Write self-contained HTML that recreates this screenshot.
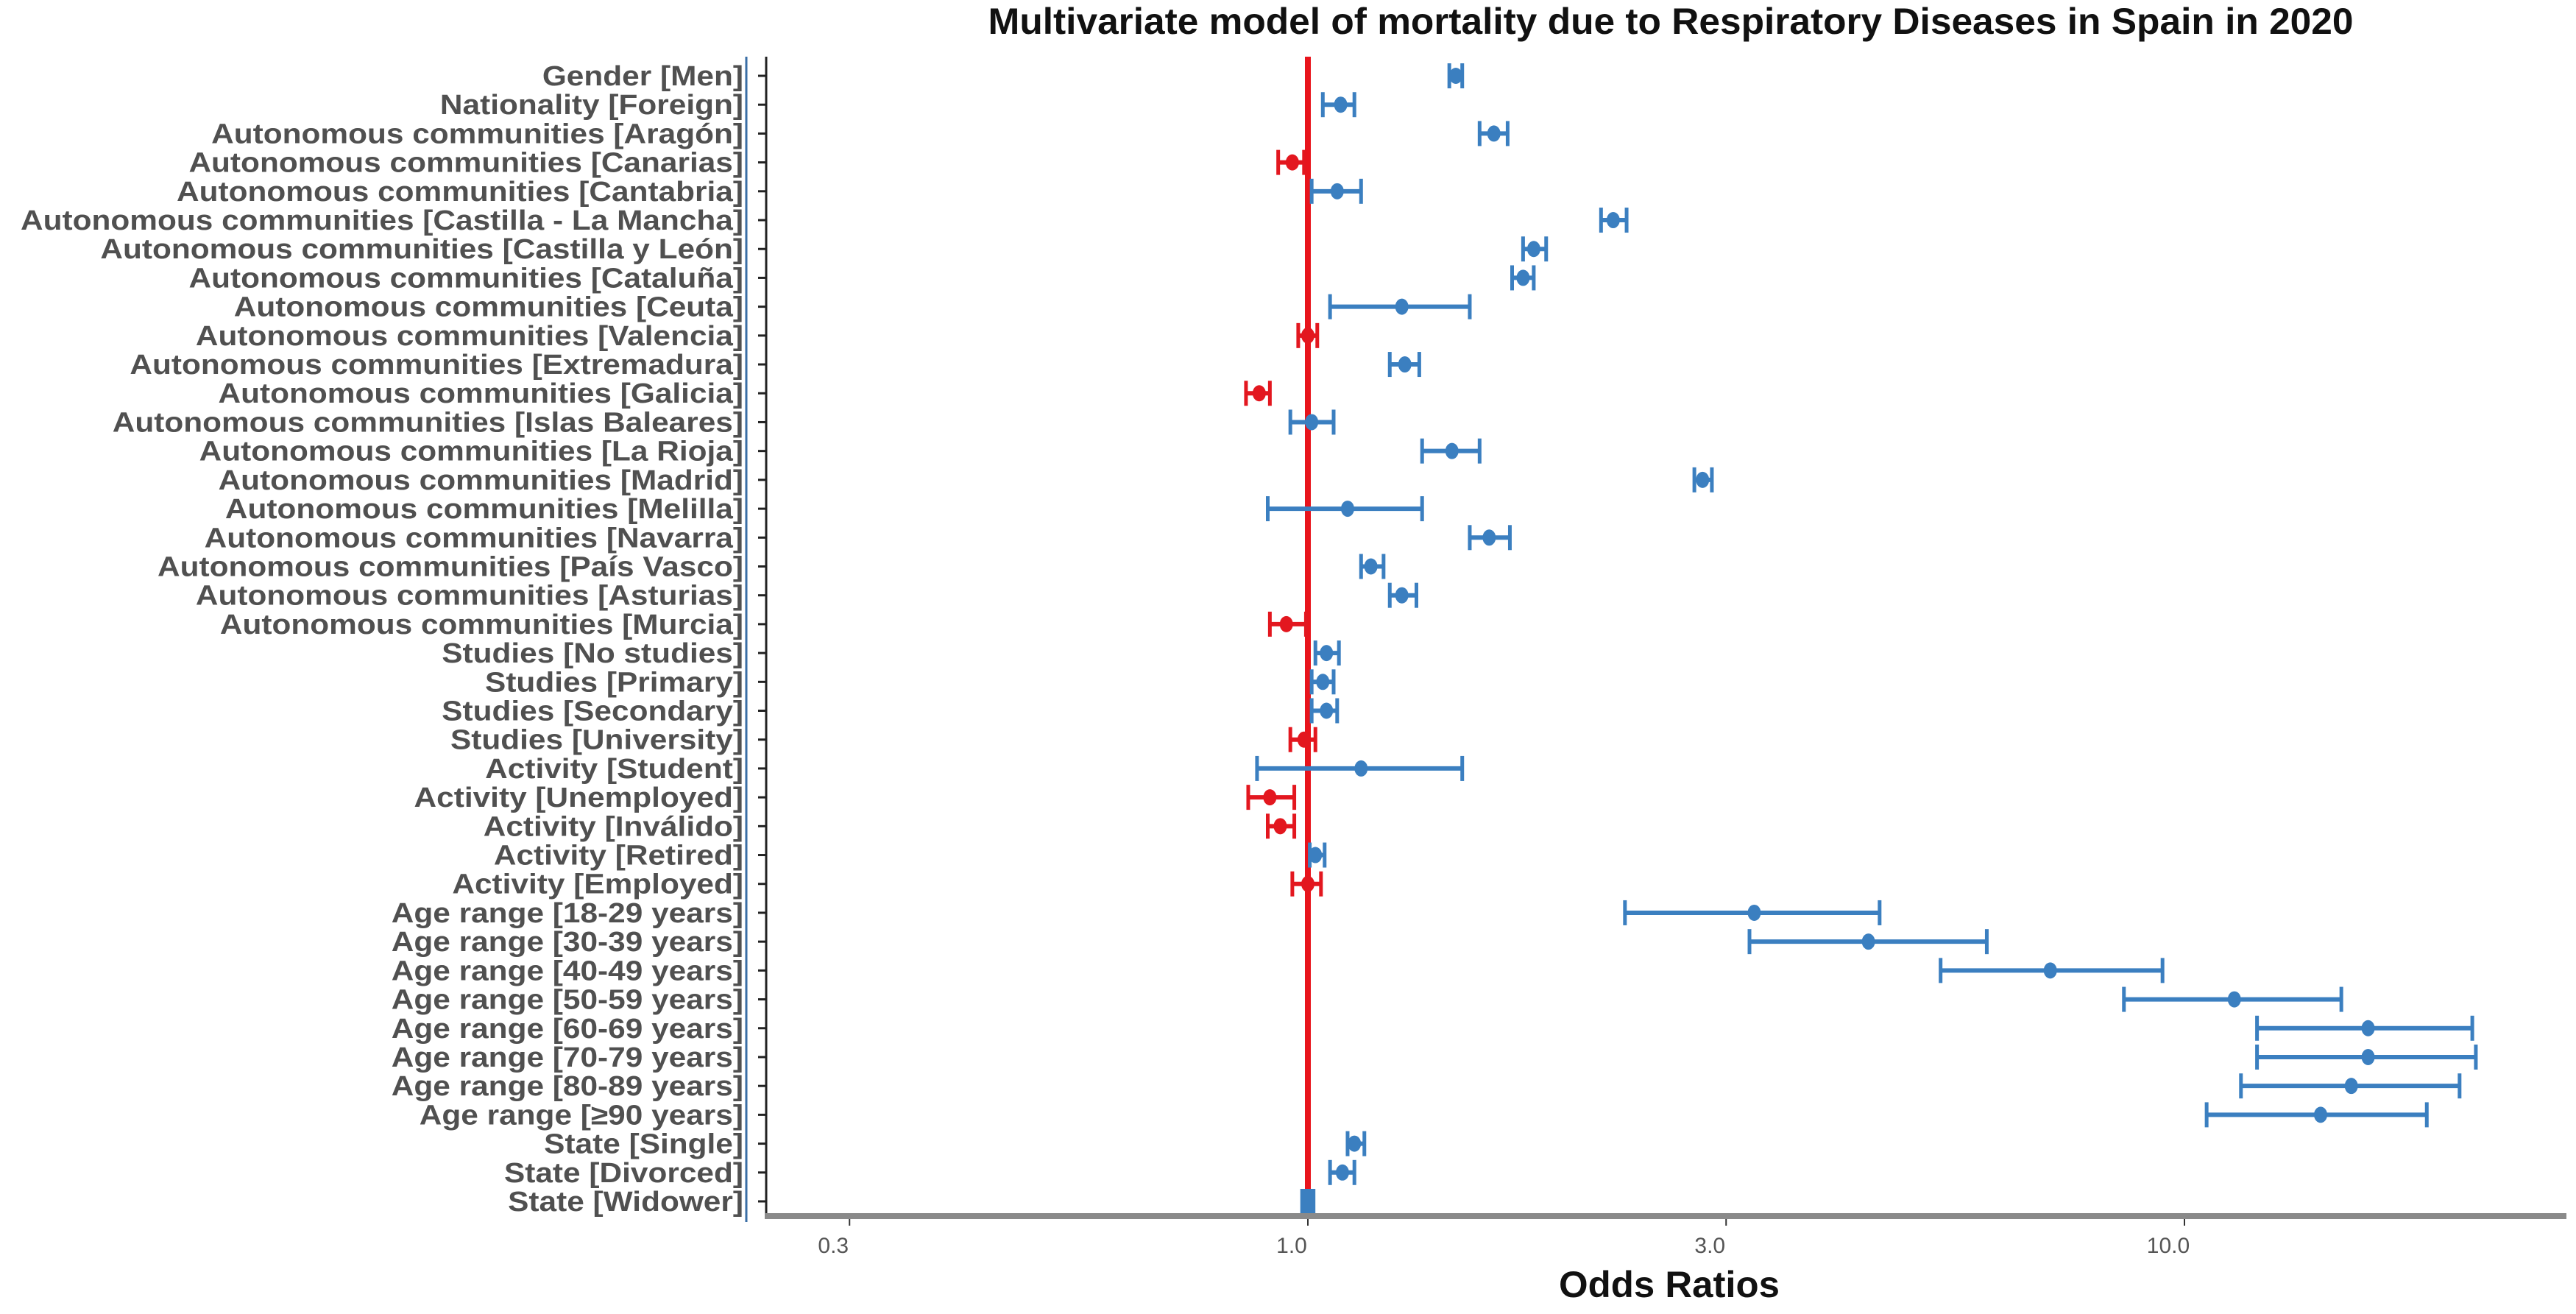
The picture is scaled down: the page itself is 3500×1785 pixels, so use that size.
<!DOCTYPE html>
<html><head><meta charset="utf-8">
<style>
html,body{margin:0;padding:0;background:#fff;}
svg{display:block;}
text{font-family:"Liberation Sans",sans-serif;}
</style></head>
<body>
<svg id="chart" width="3500" height="1785" viewBox="0 0 3500 1785" xmlns="http://www.w3.org/2000/svg">
<rect x="0" y="0" width="3500" height="1785" fill="#fff"/>
<text id="title" x="2270" y="46" text-anchor="middle" font-size="50" font-weight="bold" fill="#111" textLength="1855" lengthAdjust="spacingAndGlyphs">Multivariate model of mortality due to Respiratory Diseases in Spain in 2020</text>
<g id="ylabels"></g>
<line x1="1014" y1="77" x2="1014" y2="1660" stroke="#3a6ea5" stroke-width="3"/>
<g id="marks"></g>
<text x="2268" y="1762" text-anchor="middle" font-size="50" font-weight="bold" fill="#111" textLength="300" lengthAdjust="spacingAndGlyphs">Odds Ratios</text>
</svg>
<script>
const categories = ["Gender [Men]","Nationality [Foreign]","Autonomous communities [Aragón]","Autonomous communities [Canarias]","Autonomous communities [Cantabria]","Autonomous communities [Castilla - La Mancha]","Autonomous communities [Castilla y León]","Autonomous communities [Cataluña]","Autonomous communities [Ceuta]","Autonomous communities [Valencia]","Autonomous communities [Extremadura]","Autonomous communities [Galicia]","Autonomous communities [Islas Baleares]","Autonomous communities [La Rioja]","Autonomous communities [Madrid]","Autonomous communities [Melilla]","Autonomous communities [Navarra]","Autonomous communities [País Vasco]","Autonomous communities [Asturias]","Autonomous communities [Murcia]","Studies [No studies]","Studies [Primary]","Studies [Secondary]","Studies [University]","Activity [Student]","Activity [Unemployed]","Activity [Inválido]","Activity [Retired]","Activity [Employed]","Age range [18-29 years]","Age range [30-39 years]","Age range [40-49 years]","Age range [50-59 years]","Age range [60-69 years]","Age range [70-79 years]","Age range [80-89 years]","Age range [≥90 years]","State [Single]","State [Divorced]","State [Widower]"];
const oddsRatio = [1.475,1.09,1.63,0.96,1.08,2.23,1.81,1.76,1.28,1.0,1.29,0.88,1.01,1.46,2.82,1.11,1.61,1.18,1.28,0.945,1.05,1.04,1.05,0.99,1.15,0.905,0.93,1.02,1.0,3.23,4.36,7.03,11.4,16.2,16.2,15.5,14.3,1.13,1.095,1.0];
const ciLow = [1.45,1.04,1.57,0.925,1.01,2.16,1.76,1.71,1.06,0.975,1.24,0.85,0.955,1.35,2.76,0.90,1.53,1.15,1.24,0.905,1.02,1.01,1.01,0.955,0.875,0.855,0.90,1.005,0.96,2.30,3.19,5.27,8.53,12.1,12.1,11.6,10.6,1.11,1.06,0.985];
const ciHigh = [1.50,1.13,1.69,0.99,1.15,2.31,1.87,1.81,1.53,1.025,1.34,0.905,1.07,1.57,2.89,1.35,1.70,1.22,1.33,0.995,1.085,1.07,1.08,1.02,1.50,0.965,0.965,1.045,1.035,4.49,5.95,9.44,15.1,21.3,21.5,20.6,18.9,1.16,1.13,1.015];
const direction = ["pos","pos","pos","neg","pos","pos","pos","pos","pos","neg","pos","neg","pos","pos","pos","pos","pos","pos","pos","neg","pos","pos","pos","neg","pos","neg","neg","pos","neg","pos","pos","pos","pos","pos","pos","pos","pos","pos","pos","pos"];
const tickValues = [0.3,1.0,3.0,10.0];
const tickLabels = ["0.3","1.0","3.0","10.0"];

const NS="http://www.w3.org/2000/svg";
const X0=1777, DEC=1191;
function xs(v){return X0+DEC*Math.log10(v);}
const Y0=103, YSTEP=(1632-103)/(categories.length-1);
function ys(i){return Y0+i*YSTEP;}
function mk(tag,attrs,parent){const e=document.createElementNS(NS,tag);for(const k in attrs)e.setAttribute(k,attrs[k]);parent.appendChild(e);return e;}
const svg=document.getElementById('chart');
const marks=document.getElementById('marks');
const ylab=document.getElementById('ylabels');

let ax=mk('line',{x1:1041,y1:77,x2:1041,y2:1656,stroke:'#222','stroke-width':3},svg);


let xl=mk('line',{x1:1039,y1:1652,x2:3487,y2:1652,stroke:'#8a8a8a','stroke-width':8},svg);



tickValues.forEach((v,i)=>{
  const t=mk('line',{x1:xs(v),y1:1656,x2:xs(v),y2:1665,stroke:'#333','stroke-width':2},svg);
  
  
  const l=mk('text',{x:xs(v)-22,y:1702,'text-anchor':'middle','font-size':30,fill:'#555'},svg);
  
  
  l.textContent=tickLabels[i];
});

const ref=mk('line',{x1:xs(1),y1:77,x2:xs(1),y2:1656,stroke:'#e8141c','stroke-width':8},marks);



categories.forEach((c,i)=>{
  const y=ys(i);
  const tk=mk('line',{x1:1030,y1:y,x2:1041,y2:y,stroke:'#222','stroke-width':3},svg);
  
  
  const t=mk('text',{x:1010,y:y+13,'text-anchor':'end','font-size':38,'font-weight':'bold',fill:'#505050'},ylab);
  
  
  t.textContent=c;
  const col=direction[i]==='neg'?'#e3171f':'#3b7fc0';
  const g=mk('g',{},marks);
  
  
  const a=xs(ciLow[i]), b=xs(ciHigh[i]);
  mk('line',{x1:a,y1:y,x2:b,y2:y,stroke:col,'stroke-width':6},g);
  mk('line',{x1:a,y1:y-17,x2:a,y2:y+17,stroke:col,'stroke-width':5},g);
  mk('line',{x1:b,y1:y-17,x2:b,y2:y+17,stroke:col,'stroke-width':5},g);
  if(i===categories.length-1){
    mk('rect',{x:xs(oddsRatio[i])-10,y:y-17,width:20,height:34,fill:col},g);
  } else {
    mk('ellipse',{cx:xs(oddsRatio[i]),cy:y,rx:9,ry:11,fill:col},g);
  }
});

const longest=[...ylab.querySelectorAll('text')].reduce((m,t)=>Math.max(m,t.getComputedTextLength()),0);
if(longest>0){
  const s=982/longest;
  ylab.setAttribute('transform','translate(1010,0) scale('+s+',1) translate(-1010,0)');
}
</script>
</body></html>
